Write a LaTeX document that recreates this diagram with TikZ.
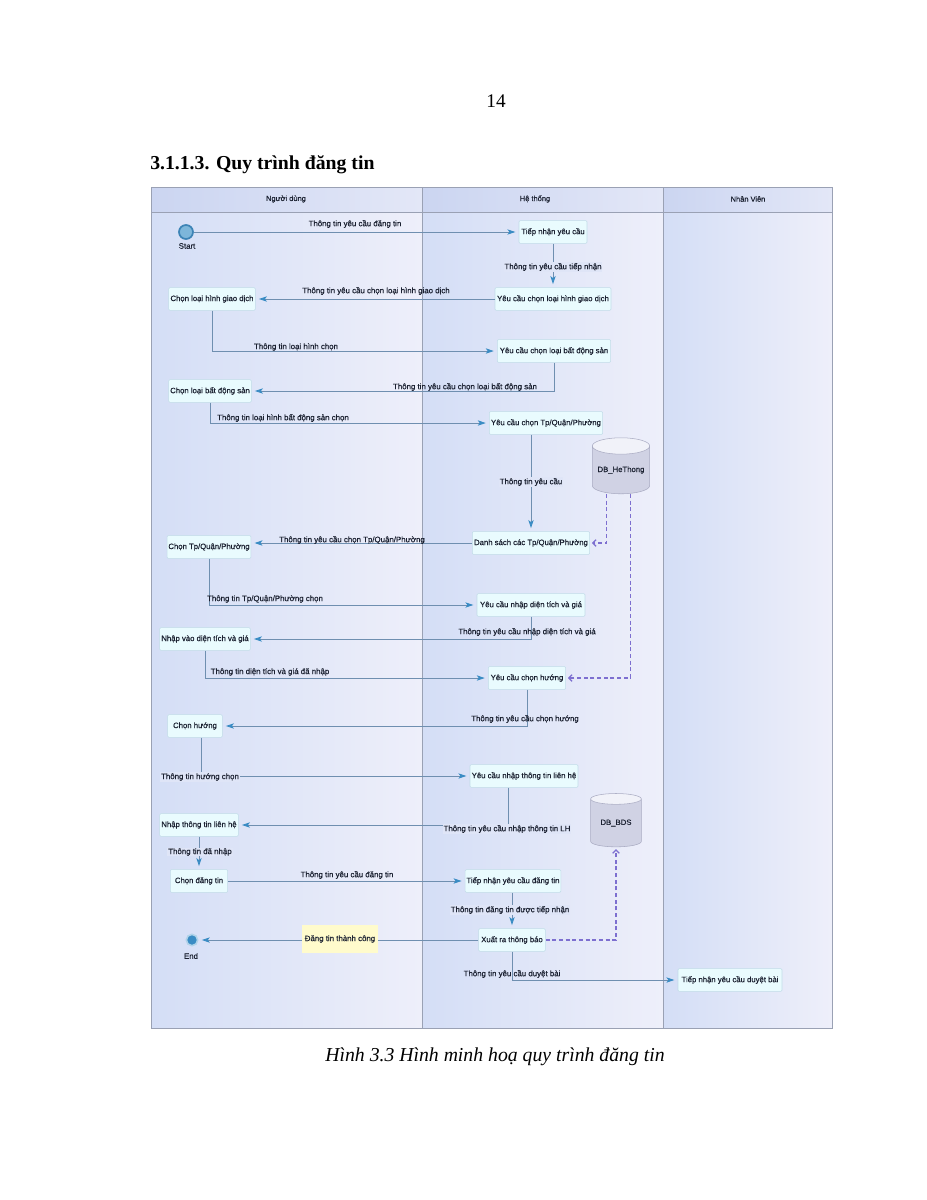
\documentclass[tikz,border=0pt]{standalone}
\usepackage{fontspec}
\setmainfont{Liberation Serif}
\newfontfamily\dfont{Liberation Sans}[RawFeature={embolden=0.5}]
\usetikzlibrary{arrows.meta,shapes.geometric,calc}
\definecolor{laneL}{HTML}{D4DEF6}
\definecolor{laneR}{HTML}{EEEFFA}
\definecolor{headL}{HTML}{CBD5F1}
\definecolor{headR}{HTML}{E3E7F7}
\definecolor{framec}{HTML}{9AA1B4}
\definecolor{boxfill}{HTML}{E9FBFE}
\definecolor{boxdraw}{HTML}{C2DCE8}
\definecolor{txt}{HTML}{1A2030}
\definecolor{linec}{HTML}{6F8FB0}
\definecolor{arrowc}{HTML}{3A8CC4}
\definecolor{dashc}{HTML}{7D6FD0}
\definecolor{lanemid}{HTML}{DFE5F7}
\definecolor{notey}{HTML}{FFFBCC}
\definecolor{dbbody}{HTML}{D0D2E4}
\definecolor{dbend}{HTML}{F1F2F9}
\definecolor{dbdraw}{HTML}{A9ABC2}
\definecolor{startin}{HTML}{7DB6DA}
\definecolor{startout}{HTML}{3D84B6}
\begin{document}
\begin{tikzpicture}[x=0.75pt,y=-0.75pt,
  box/.style={draw=boxdraw, fill=boxfill, rounded corners=0.8pt, text=txt,
    font=\dfont\fontsize{5.8}{6.5}\selectfont, minimum height=17pt, inner xsep=1pt, inner ysep=1pt},
  lbl/.style={font=\dfont\fontsize{5.9}{7}\selectfont, inner sep=0.6pt, text=txt},
  vlbl/.style={lbl, fill=lanemid},
  hdr/.style={font=\dfont\fontsize{5.6}{7}\selectfont, text=txt},
  flow/.style={draw=linec, line width=0.65pt, shorten >=2.5pt,
    -{Stealth[length=6pt,width=4pt,inset=1.5pt,color=arrowc]}},
  dbflow/.style={draw=dashc, line width=0.9pt, dash pattern=on 3pt off 2pt, shorten >=1.5pt,
    -{Straight Barb[length=2.5pt,width=5pt]}},
  db/.style={cylinder, shape border rotate=90, aspect=0.35, draw=dbdraw, cylinder uses custom fill,
    cylinder body fill=dbbody, cylinder end fill=dbend, text=txt,
    font=\dfont\fontsize{5.8}{6.5}\selectfont, inner sep=0pt}]
\useasboundingbox[fill=white] (0,0) rectangle (927,1200);

% page texts
\node[font=\fontsize{14.5}{17}\selectfont, anchor=base] (pg) at (496,107) {14};
\node[font=\bfseries\fontsize{14.8}{17}\selectfont, anchor=base west, inner sep=0pt] (title) at (150,169) {3.1.1.3. Quy trình đăng tin};
\node[font=\itshape\fontsize{14.8}{17}\selectfont, anchor=base] (cap) at (495,1061) {Hình 3.3 Hình minh hoạ quy trình đăng tin};

% lanes
\shade[left color=laneL, right color=laneR] (151,212) rectangle (422,1028);
\shade[left color=laneL, right color=laneR] (422,212) rectangle (663,1028);
\shade[left color=laneL, right color=laneR] (663,212) rectangle (832,1028);
\shade[left color=headL, right color=headR] (151,187) rectangle (422,212);
\shade[left color=headL, right color=headR] (422,187) rectangle (663,212);
\shade[left color=headL, right color=headR] (663,187) rectangle (832,212);
\draw[framec, line width=0.6pt] (151,187) rectangle (832,1028);
\draw[framec, line width=0.5pt] (151,212) -- (832,212);
\draw[framec, line width=0.6pt] (422,187) -- (422,1028);
\draw[framec, line width=0.6pt] (663,187) -- (663,1028);
\node[hdr] (h1) at (286,199) {Người dùng};
\node[hdr] (h2) at (535,199) {Hệ thống};
\node[hdr] (h3) at (748,199) {Nhân Viên};

% start / end
\node[circle, minimum size=10.5pt, inner sep=0pt, fill=startin, draw=startout, line width=1.3pt] (start) at (186,232) {};
\node[lbl] (startl) at (187,246) {Start};
\node[circle, minimum size=8.5pt, inner sep=0pt, fill=arrowc, draw=startin!60, line width=1.2pt] (end) at (192,940) {};
\node[lbl] (endl) at (191,956) {End};

% boxes
\node[box, minimum width=51pt] (tn1) at (553,232) {Tiếp nhận yêu cầu};
\node[box, minimum width=87pt] (ycgd) at (553,299) {Yêu cầu chọn loại hình giao dịch};
\node[box, minimum width=65pt] (clgd) at (212,299) {Chọn loại hình giao dịch};
\node[box, minimum width=85pt] (ycbds) at (554,351) {Yêu cầu chọn loại bất động sản};
\node[box, minimum width=62pt] (clbds) at (210,391) {Chọn loại bất động sản};
\node[box, minimum width=85pt] (yctp) at (546,423) {Yêu cầu chọn Tp/Quận/Phường};
\node[box, minimum width=88pt] (dstp) at (531,543) {Danh sách các Tp/Quận/Phường};
\node[box, minimum width=61.5pt] (ctp) at (209,547) {Chọn Tp/Quận/Phường};
\node[box, minimum width=81pt] (ycdt) at (531,605) {Yêu cầu nhập diện tích và giá};
\node[box, minimum width=68pt] (nvdt) at (205,639) {Nhập vào diện tích và giá};
\node[box, minimum width=58pt] (ych) at (527,678) {Yêu cầu chọn hướng};
\node[box, minimum width=41pt] (ch) at (195,726) {Chọn hướng};
\node[box, minimum width=81pt] (yclh) at (524,776) {Yêu cầu nhập thông tin liên hệ};
\node[box, minimum width=59pt] (nlh) at (199,825) {Nhập thông tin liên hệ};
\node[box, minimum width=43pt] (cdt) at (199,881) {Chọn đăng tin};
\node[box, minimum width=70.5pt] (tndt) at (513,881) {Tiếp nhận yêu cầu đăng tin};
\node[box, minimum width=50pt] (xtb) at (512,940) {Xuất ra thông báo};
\node[box, minimum width=78pt] (tndb) at (730,980) {Tiếp nhận yêu cầu duyệt bài};

% databases
\node[db, minimum width=43pt, minimum height=42pt] (dbh) at (621,470) {DB\_HeThong};
\node[db, minimum width=38pt, minimum height=40pt] (dbb) at (616,823) {DB\_BDS};

% connectors
\draw[flow] (start) -- (tn1.west);
\draw[flow] (tn1.south) -- (ycgd.north);
\draw[flow] (ycgd.west) -- (clgd.east);
\draw[flow] (clgd.south) |- (ycbds.west);
\draw[flow] (ycbds.south) |- (clbds.east);
\draw[flow] (clbds.south) |- (yctp.west);
\draw[flow] (dstp.north |- yctp.south) -- (dstp.north);
\draw[dbflow] ([xshift=-11pt]dbh.south) |- (dstp.east);
\draw[dbflow] ([xshift=7pt]dbh.south) |- (ych.east);
\draw[flow] (dstp.west) -- (dstp.west -| ctp.east);
\draw[flow] (ctp.south) |- (ycdt.west);
\draw[flow] (ycdt.south) |- (nvdt.east);
\draw[flow] (nvdt.south) |- (ych.west);
\draw[flow] (ych.south) |- (ch.east);
\draw[flow] ([xshift=5pt]ch.south) |- (yclh.west);
\draw[flow] ([xshift=-12pt]yclh.south) |- (nlh.east);
\draw[flow] (nlh.south) -- (cdt.north);
\draw[flow] (cdt.east) -- (tndt.west);
\draw[flow] (xtb.north |- tndt.south) -- (xtb.north);
\draw[flow] (xtb.west) -- (end);
\draw[dbflow] (xtb.east) -| (dbb.south);
\draw[flow] (xtb.south) |- (tndb.west);

% labels
\node[lbl] (l1) at (355,224) {Thông tin yêu cầu đăng tin};
\node[vlbl] (l2) at (553,267) {Thông tin yêu cầu tiếp nhận};
\node[lbl] (l3) at (376,291) {Thông tin yêu cầu chọn loại hình giao dịch};
\node[lbl] (l4) at (296,347) {Thông tin loại hình chọn};
\node[lbl] (l5) at (465,387) {Thông tin yêu cầu chọn loại bất động sản};
\node[lbl] (l6) at (283,418) {Thông tin loại hình bất động sản chọn};
\node[vlbl] (l7) at (531,482) {Thông tin yêu cầu};
\node[lbl] (l8) at (352,540) {Thông tin yêu cầu chọn Tp/Quận/Phường};
\node[lbl] (l9) at (265,599) {Thông tin Tp/Quận/Phường chọn};
\node[lbl] (l10) at (527,632) {Thông tin yêu cầu nhập diện tích và giá};
\node[lbl] (l11) at (270,672) {Thông tin diện tích và giá đã nhập};
\node[lbl] (l12) at (525,719) {Thông tin yêu cầu chọn hướng};
\node[vlbl] (l13) at (200,777) {Thông tin hướng chọn};
\node[vlbl] (l14) at (507,829) {Thông tin yêu cầu nhập thông tin LH};
\node[vlbl] (l15) at (200,852) {Thông tin đã nhập};
\node[lbl] (l16) at (347,875) {Thông tin yêu cầu đăng tin};
\node[vlbl] (l17) at (510,910) {Thông tin đăng tin được tiếp nhận};
\node[lbl, fill=notey, minimum height=21pt, inner xsep=2pt] (l18) at (340,939) {Đăng tin thành công};
\node[lbl] (l19) at (512,974) {Thông tin yêu cầu duyệt bài};
\end{tikzpicture}
\end{document}
